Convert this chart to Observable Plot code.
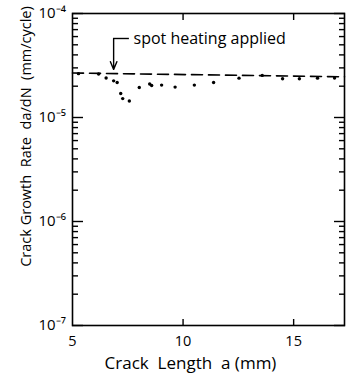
<!DOCTYPE html>
<html><head><meta charset="utf-8">
<script src="https://cdn.jsdelivr.net/npm/d3@7"></script>
<script src="https://cdn.jsdelivr.net/npm/@observablehq/plot@0.6"></script>
<style>body{margin:0;background:#fff} svg{display:block}</style>
</head><body><div id="chart"></div>
<script>
// Data
const crackLength = [5.27, 6.18, 6.52, 6.86, 7.02, 7.18, 7.27, 7.57, 8.02, 8.49, 8.58, 9.03, 9.64, 10.51, 11.38, 12.53, 13.58, 14.5, 15.26, 16.08, 16.85];
const growthRate  = [2.64e-5, 2.62e-5, 2.40e-5, 2.25e-5, 2.17e-5, 1.70e-5, 1.52e-5, 1.44e-5, 1.94e-5, 2.10e-5, 2.03e-5, 2.05e-5, 1.96e-5, 2.05e-5, 2.17e-5, 2.39e-5, 2.54e-5, 2.36e-5, 2.36e-5, 2.39e-5, 2.40e-5];
const baselineLength = [5, 17.3];
const baselineRate = [2.68e-5, 2.46e-5];

const annotationText = "spot heating applied";
const annotationLength = 6.86;      // arrow position
const annotationRate = 5.75e-5;     // leader line height
const annotationTipRate = 2.9e-5;   // arrow tip
const annotationEndLength = 7.55;   // end of horizontal leader

const yMajor = [1e-7, 1e-6, 1e-5, 1e-4];
const yMajorLabels = ["10⁻⁷", "10⁻⁶", "10⁻⁵", "10⁻⁴"];
const yMinor = [];
for (const d of [1e-7, 1e-6, 1e-5]) for (const m of [2,3,4,5,6,7,8,9]) yMinor.push(m * d);
const xTickValues = [10, 15];
const xLabelValues = [5, 10, 15];
const xLabels = ["5", "10", "15"];
const xTitle = "Crack  Length  a (mm)";
const yTitle = "Crack Growth  Rate  da/dN  (mm/cycle)";

const points = crackLength.map((a, i) => ({a, rate: growthRate[i]}));
const baseline = baselineLength.map((a, i) => ({a, rate: baselineRate[i]}));
const font = "Open Sans";

const plot = Plot.plot({
  width: 347, height: 374,
  marginLeft: 72, marginRight: 3, marginTop: 13, marginBottom: 49,
  style: {fontFamily: font, fontSize: "14px", background: "#fff", color: "#000"},
  x: {domain: [5, 17.3]},
  y: {type: "log", domain: [1e-7, 1e-4]},
  marks: [
    Plot.frame({stroke: "#000", strokeWidth: 1.6}),
    Plot.axisY(yMajor, {anchor: "left", tickSize: -11, tickFormat: () => "", strokeWidth: 1.4, label: null}),
    Plot.axisY(yMinor, {anchor: "left", tickSize: -6, tickFormat: () => "", strokeWidth: 1.4, label: null}),
    Plot.axisY(yMajor, {anchor: "right", tickSize: -11, tickFormat: () => "", strokeWidth: 1.4, label: null}),
    Plot.axisY(yMinor, {anchor: "right", tickSize: -6, tickFormat: () => "", strokeWidth: 1.4, label: null}),
    Plot.axisX(xTickValues, {anchor: "bottom", tickSize: -6, tickFormat: () => "", strokeWidth: 1.4, label: null}),
    Plot.axisX(xTickValues, {anchor: "top", tickSize: -6, tickFormat: () => "", strokeWidth: 1.4, label: null}),
    Plot.text(yMajor, {y: d => d, text: (d, i) => yMajorLabels[i], frameAnchor: "left", textAnchor: "start", lineAnchor: "middle", dx: -34, fontSize: 15}),
    Plot.text(xLabelValues, {x: d => d, text: (d, i) => xLabels[i], frameAnchor: "bottom", textAnchor: "middle", lineAnchor: "middle", dy: 16, fontSize: 14.5}),
    Plot.text([xTitle], {text: d => d, frameAnchor: "bottom", textAnchor: "middle", lineAnchor: "middle", dy: 38, dx: -18, fontSize: 17}),
    Plot.text([yTitle], {text: d => d, frameAnchor: "left", textAnchor: "middle", lineAnchor: "middle", dx: -46, dy: -33, rotate: -90, fontSize: 14.5}),
    Plot.line(baseline, {x: "a", y: "rate", stroke: "#000", strokeWidth: 1.6, strokeDasharray: "11,6"}),
    Plot.dot(points, {x: "a", y: "rate", r: 1.7, fill: "#000"}),
    Plot.arrow([0], {x1: annotationLength, y1: annotationRate, x2: annotationLength, y2: annotationTipRate, headLength: 9, headAngle: 45, stroke: "#000", strokeWidth: 1.4}),
    Plot.link([0], {x1: annotationLength, y1: annotationRate, x2: annotationEndLength, y2: annotationRate, stroke: "#000", strokeWidth: 1.4}),
    Plot.text([annotationText], {x: annotationLength + 0.9, y: annotationRate, text: d => d, textAnchor: "start", lineAnchor: "middle", fontSize: 16})
  ]
});
document.getElementById("chart").appendChild(plot);
</script>
</body></html>
